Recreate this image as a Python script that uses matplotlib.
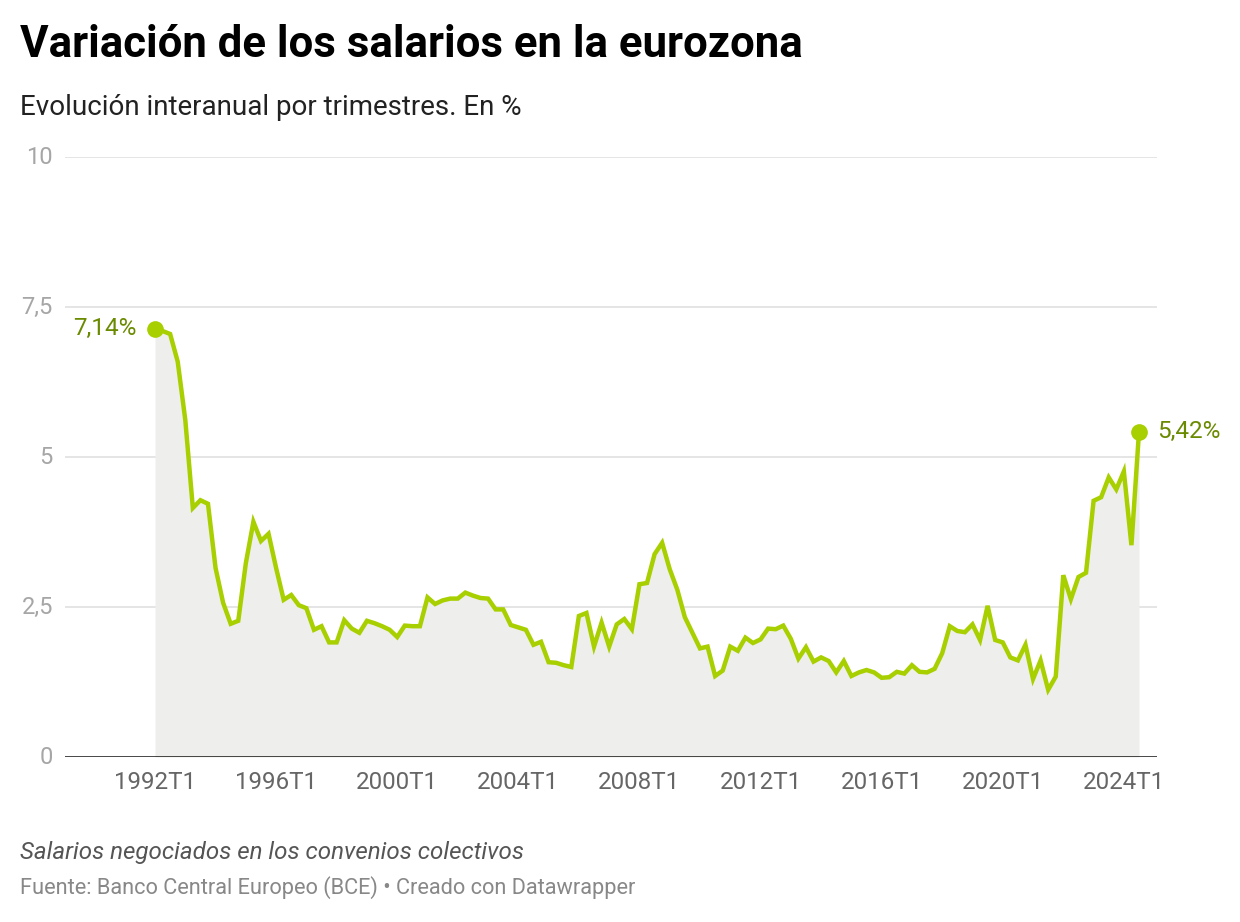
import matplotlib
matplotlib.use("Agg")
import matplotlib.pyplot as plt
import numpy as np

plt.rcParams['font.family'] = ['Roboto', 'DejaVu Sans']

# Quarterly data 1992T1 .. 2024T3 (year-on-year %, negotiated wages)
values = [
    7.14, 7.10, 7.05, 6.59, 5.62, 4.15, 4.28, 4.22, 3.15, 2.57,
    2.22, 2.27, 3.23, 3.92, 3.60, 3.72, 3.15, 2.62, 2.70, 2.53,
    2.48, 2.12, 2.18, 1.91, 1.91, 2.28, 2.14, 2.07, 2.27, 2.23,
    2.18, 2.12, 2.00, 2.19, 2.18, 2.18, 2.66, 2.55, 2.61, 2.64,
    2.64, 2.74, 2.69, 2.65, 2.64, 2.46, 2.46, 2.20, 2.16, 2.12,
    1.87, 1.92, 1.58, 1.57, 1.53, 1.50, 2.35, 2.40, 1.84, 2.24,
    1.84, 2.21, 2.30, 2.13, 2.88, 2.90, 3.38, 3.57, 3.13, 2.79,
    2.33, 2.07, 1.81, 1.84, 1.35, 1.44, 1.84, 1.77, 1.99, 1.90,
    1.96, 2.14, 2.13, 2.19, 1.97, 1.64, 1.83, 1.59, 1.66, 1.60,
    1.41, 1.60, 1.35, 1.41, 1.45, 1.41, 1.32, 1.33, 1.42, 1.39,
    1.53, 1.42, 1.41, 1.47, 1.73, 2.18, 2.10, 2.08, 2.21, 1.95,
    2.52, 1.95, 1.91, 1.66, 1.61, 1.87, 1.30, 1.61, 1.12, 1.34,
    3.03, 2.63, 3.00, 3.07, 4.27, 4.33, 4.66, 4.46, 4.76, 3.53,
    5.42,
]
start_year = 1992
quarters = [f"{start_year + k // 4}T{k % 4 + 1}" for k in range(len(values))]
xtick_labels = ["1992T1", "1996T1", "2000T1", "2004T1", "2008T1",
                "2012T1", "2016T1", "2020T1", "2024T1"]
ytick_values = [0, 2.5, 5, 7.5, 10]
ytick_labels = ["0", "2,5", "5", "7,5", "10"]

W, H = 1240, 922
fig = plt.figure(figsize=(W / 100, H / 100), dpi=100)
fig.patch.set_facecolor("white")

ax_l, ax_r, ax_t, ax_b = 65, 1157, 157, 757
ax = fig.add_axes([ax_l / W, 1 - ax_b / H, (ax_r - ax_l) / W, (ax_b - ax_t) / H])

x = np.arange(len(values))
step = (1139 - 155) / (len(values) - 1)
x_left = (ax_l - 155) / step
x_right = (ax_r - 155) / step
ax.set_xlim(x_left, x_right)
ax.set_ylim(0, 10)

line_col = "#a8cf00"
ann_col = "#6a8a00"

ax.fill_between(x, 0, values, color="#eeeeec", linewidth=0, zorder=1)
ax.plot(x, values, color=line_col, linewidth=3.2, solid_joinstyle="miter",
        zorder=3)
ax.plot([x[0], x[-1]], [values[0], values[-1]], "o", color=line_col,
        markersize=11, zorder=4, clip_on=False)

for yv in ytick_values[1:]:
    ax.axhline(yv, color="#e0e0e0", linewidth=1.2, zorder=0)
ax.axhline(0, color="#111111", linewidth=1.8, zorder=5)

for s in ax.spines.values():
    s.set_visible(False)
ax.set_yticks([])
ax.set_xticks([])
ax.set_facecolor("none")

# y tick labels
for yv, lab in zip(ytick_values, ytick_labels):
    fig.text(53 / W, 1 - (757 - yv * 60) / H, lab, ha="right", va="center",
             fontsize=17, color="#a6a6a6")

# x tick labels
for lab in xtick_labels:
    idx = quarters.index(lab)
    ax.text(idx, -0.43, lab, ha="center", va="center", fontsize=17.4,
            color="#666666", transform=ax.transData, clip_on=False)

# annotations
ax.annotate(f"{values[0]:.2f}%".replace(".", ","), (x[0], values[0]),
            xytext=(-13, 0), textcoords="offset points", ha="right",
            va="center", fontsize=17.5, color=ann_col)
ax.annotate(f"{values[-1]:.2f}%".replace(".", ","), (x[-1], values[-1]),
            xytext=(13, 0), textcoords="offset points", ha="left",
            va="center", fontsize=17.5, color=ann_col)

fig.text(20 / W, 1 - 45 / H, "Variación de los salarios en la eurozona",
         ha="left", va="center", fontsize=31.5, fontweight="bold",
         color="#000000")
fig.text(20 / W, 1 - 107 / H, "Evolución interanual por trimestres. En %",
         ha="left", va="center", fontsize=20, color="#222222")
fig.text(20 / W, 1 - 852 / H, "Salarios negociados en los convenios colectivos",
         ha="left", va="center", fontsize=17.4, style="italic", color="#555555")
fig.text(20 / W, 1 - 888 / H,
         "Fuente: Banco Central Europeo (BCE) • Creado con Datawrapper",
         ha="left", va="center", fontsize=15.7, color="#888888")

fig.savefig("out.png", dpi=100, facecolor="white")
